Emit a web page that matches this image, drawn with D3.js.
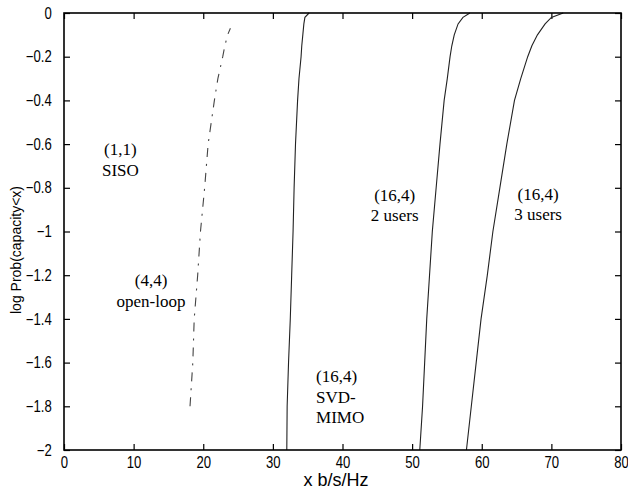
<!DOCTYPE html>
<html>
<head>
<meta charset="utf-8">
<script src="https://cdn.jsdelivr.net/npm/d3@7"></script>
<style>
  body { margin: 0; background: #fff; }
  svg { display: block; }
  .tick text { font-family: "Liberation Sans", Arial, sans-serif; font-size: 16px; fill: #000; }
  .tick line { stroke: #000; stroke-width: 1.2; }
  .axis-label { font-family: "Liberation Sans", Arial, sans-serif; fill: #000; }
  .note { font-family: "Liberation Serif", "Times New Roman", serif; font-size: 17px; fill: #000; }
</style>
</head>
<body>
<div id="chart"></div>
<script>
// Probability levels (log10 scale) at which the curves were read
const logLevels = [-2, -1.8, -1.6, -1.4, -1.2, -1.0, -0.8, -0.6, -0.4, -0.3, -0.2, -0.15, -0.1, -0.05, -0.02, 0];

// (16,4) SVD-MIMO
const svdMimo = [32.0, 32.05, 32.25, 32.5, 32.7, 32.9, 33.05, 33.25, 33.55, 33.75, 34.05, 34.15, 34.3, 34.45, 34.6, 35.2];
// (16,4) 2 users
const twoUsers = [51.1, 51.5, 51.8, 52.1, 52.5, 52.9, 53.45, 54.0, 54.6, 55.05, 55.45, 55.7, 56.05, 56.6, 57.3, 58.3];
// (16,4) 3 users
const threeUsers = [57.8, 58.5, 59.2, 59.9, 60.8, 61.6, 62.6, 63.6, 64.7, 65.6, 66.6, 67.2, 68.0, 69.1, 70.0, 71.7];

// (4,4) open-loop, only drawn between -1.8 and about -0.07
const openLoopLevels = [-1.8, -1.6, -1.4, -1.2, -1.0, -0.8, -0.6, -0.4, -0.3, -0.2, -0.15, -0.1, -0.07];
const openLoop = [18.1, 18.5, 18.7, 19.2, 19.6, 20.2, 20.7, 21.6, 22.1, 22.8, 23.1, 23.5, 23.9];

const xTicks = [0, 10, 20, 30, 40, 50, 60, 70, 80];
const yTicks = [0, -0.2, -0.4, -0.6, -0.8, -1, -1.2, -1.4, -1.6, -1.8, -2];

const notes = [
    { x: 8.1, y: -0.65, lines: ["(1,1)", "SISO"], anchor: "middle" },
    { x: 12.5, y: -1.25, lines: ["(4,4)", "open-loop"], anchor: "middle" },
    { x: 47.5, y: -0.86, lines: ["(16,4)", "2 users"], anchor: "middle" },
    { x: 68.1, y: -0.855, lines: ["(16,4)", "3 users"], anchor: "middle" },
    { x: 36.2, y: -1.69, lines: ["(16,4)", "SVD-", "MIMO"], anchor: "start" }
];

const width = 628, height = 493;
const margin = { top: 13, right: 7, bottom: 43, left: 64 };
const plotW = width - margin.left - margin.right;
const plotH = height - margin.top - margin.bottom;

const svg = d3.select("#chart").append("svg")
    .attr("width", width)
    .attr("height", height);

const g = svg.append("g").attr("transform", `translate(${margin.left},${margin.top})`);

const x = d3.scaleLinear().domain([0, 80]).range([0, plotW]);
const y = d3.scaleLinear().domain([-2, 0]).range([plotH, 0]);

// --- Axes with inward ticks on all four sides ---
const fmtY = d => d === 0 ? "0" : d3.format("")(d);

// tick labels in the reference are narrow, so squeeze them horizontally
g.append("g")
    .attr("transform", `translate(0,${plotH})`)
    .call(d3.axisBottom(x).tickValues(xTicks).tickSizeInner(-6).tickSizeOuter(0).tickPadding(7))
    .call(a => a.select(".domain").remove())
    .call(a => a.selectAll(".tick text").attr("transform", "scale(0.82,1)"));

g.append("g")
    .call(d3.axisLeft(y).tickValues(yTicks).tickFormat(fmtY).tickSizeInner(-6).tickSizeOuter(0).tickPadding(15))
    .call(a => a.select(".domain").remove())
    .call(a => a.selectAll(".tick text").attr("transform", "scale(0.82,1)"));

g.append("g")
    .call(d3.axisTop(x).tickValues(xTicks).tickFormat("").tickSizeInner(-6).tickSizeOuter(0))
    .call(a => a.select(".domain").remove());

g.append("g")
    .attr("transform", `translate(${plotW},0)`)
    .call(d3.axisRight(y).tickValues(yTicks).tickFormat("").tickSizeInner(-6).tickSizeOuter(0))
    .call(a => a.select(".domain").remove());

// --- Curves ---
const line = d3.line().x(d => x(d[0])).y(d => y(d[1]));

const solidSeries = [svdMimo, twoUsers, threeUsers];
solidSeries.forEach(vals => {
    g.append("path")
        .datum(vals.map((v, i) => [v, logLevels[i]]))
        .attr("fill", "none")
        .attr("stroke", "#222")
        .attr("stroke-width", 1.1)
        .attr("d", line);
});

g.append("path")
    .datum(openLoop.map((v, i) => [v, openLoopLevels[i]]))
    .attr("fill", "none")
    .attr("stroke", "#444")
    .attr("stroke-width", 1.1)
    .attr("stroke-dasharray", "9,7,2,7")
    .attr("d", line);

// Frame
g.append("rect")
    .attr("width", plotW)
    .attr("height", plotH)
    .attr("fill", "none")
    .attr("stroke", "#000")
    .attr("stroke-width", 1.6);

// --- Annotations ---
notes.forEach(n => {
    const t = g.append("text")
        .attr("class", "note")
        .attr("text-anchor", n.anchor)
        .attr("x", x(n.x))
        .attr("y", y(n.y));
    n.lines.forEach((s, i) => {
        t.append("tspan").attr("x", x(n.x)).attr("dy", i === 0 ? 0 : 20.5).text(s);
    });
});

// --- Axis labels ---
svg.append("text")
    .attr("class", "axis-label")
    .attr("text-anchor", "middle")
    .style("font-size", "18px")
    .attr("x", 336)
    .attr("y", 486)
    .text("x b/s/Hz");

svg.append("text")
    .attr("class", "axis-label")
    .attr("text-anchor", "middle")
    .style("font-size", "14px")
    .attr("transform", `translate(21,250) rotate(-90)`)
    .text("log Prob(capacity<x)");
</script>
</body>
</html>
